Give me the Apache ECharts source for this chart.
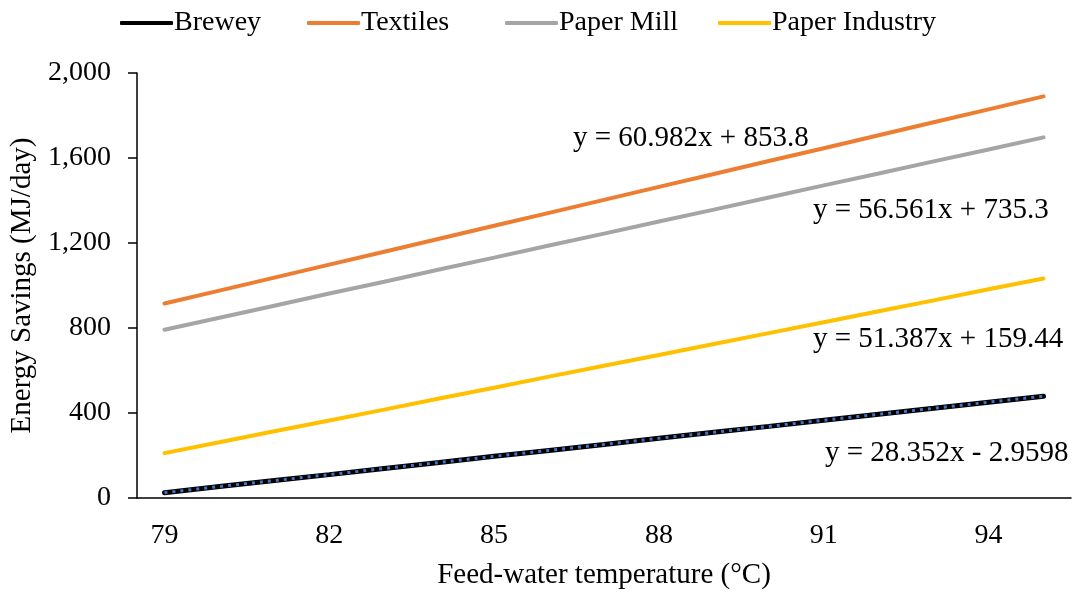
<!DOCTYPE html>
<html>
<head>
    <meta charset="utf-8">
    <title>energy savings</title>
    <style>
        html, body { margin: 0; padding: 0; background: #fff; }
        #main { width: 1078px; height: 592px; }
    </style>
</head>
<body>
<div id="main"></div>

<script src="https://cdn.jsdelivr.net/npm/echarts@6/dist/echarts.min.js"></script>
<script>
    // feed-water temperature (°C), one category per degree
    var temps = ['79', '80', '81', '82', '83', '84', '85', '86', '87', '88', '89', '90', '91', '92', '93', '94', '95'];

    // energy savings (MJ/day)
    var brewey = [25, 54, 82, 110, 139, 167, 196, 224, 252, 281, 309, 337, 366, 394, 422, 451, 479];
    var textiles = [915, 976, 1037, 1098, 1159, 1220, 1281, 1342, 1403, 1464, 1525, 1586, 1646, 1707, 1768, 1829, 1890];
    var paperMill = [792, 848, 905, 962, 1018, 1075, 1131, 1188, 1244, 1301, 1357, 1414, 1471, 1527, 1584, 1640, 1697];
    var paperIndustry = [211, 262, 314, 365, 416, 468, 519, 571, 622, 673, 725, 776, 827, 879, 930, 982, 1033];

    var seriesNames = ['Brewey', 'Textiles', 'Paper Mill', 'Paper Industry'];

    var equations = [
        'y = 60.982x + 853.8',
        'y = 56.561x + 735.3',
        'y = 51.387x + 159.44',
        'y = 28.352x - 2.9598'
    ];

    var FONT = '"Liberation Serif", "Times New Roman", serif';

    var lineSeries = function (name, data, color, width) {
        return {
            name: name,
            type: 'line',
            data: data,
            symbol: 'none',
            silent: true,
            lineStyle: { color: color, width: width, cap: 'round' },
            itemStyle: { color: color }
        };
    };

    var eqText = function (text, x, y) {
        return {
            type: 'text',
            left: x,
            top: y,
            style: { text: text, fill: '#000', font: '29px ' + FONT }
        };
    };

    // one legend block per item so the spacing can follow the original
    var legendAt = function (name, x) {
        return {
            data: [name],
            left: x,
            top: 4,
            icon: 'roundRect',
            itemWidth: 53,
            itemHeight: 4,
            textStyle: { fontFamily: FONT, fontSize: 28, color: '#000', padding: [0, 0, 0, -4] }
        };
    };

    var myChart = echarts.init(document.getElementById('main'));

    var series = [
        lineSeries(seriesNames[0], brewey, '#000000', 5),
        lineSeries(seriesNames[1], textiles, '#ED7D31', 4),
        lineSeries(seriesNames[2], paperMill, '#A5A5A5', 4),
        lineSeries(seriesNames[3], paperIndustry, '#FFC000', 4)
    ];
    // dotted trendline drawn over the brewery line
    series.push({
        name: 'Brewey trend',
        type: 'line',
        data: brewey,
        symbol: 'none',
        silent: true,
        z: 3,
        lineStyle: { color: '#4472C4', width: 3, type: [3, 5], cap: 'butt' }
    });

    var option = {
        animation: false,
        textStyle: { fontFamily: FONT },
        legend: [
            legendAt(seriesNames[0], 115),
            legendAt(seriesNames[1], 302),
            legendAt(seriesNames[2], 500),
            legendAt(seriesNames[3], 713)
        ],
        grid: { left: 137, right: 7, top: 73, bottom: 94, outerBoundsMode: 'none' },
        xAxis: {
            type: 'category',
            data: temps,
            boundaryGap: true,
            name: 'Feed-water temperature (°C)',
            nameLocation: 'middle',
            nameGap: 63,
            nameTextStyle: { fontFamily: FONT, fontSize: 29, color: '#000' },
            axisLine: { lineStyle: { color: '#000', width: 1.5 } },
            axisTick: { show: false },
            axisLabel: { interval: 2, fontFamily: FONT, fontSize: 28, color: '#000', margin: 24 }
        },
        yAxis: {
            type: 'value',
            min: 0,
            max: 2000,
            interval: 400,
            name: 'Energy Savings (MJ/day)',
            nameLocation: 'middle',
            nameGap: 100,
            nameTextStyle: { fontFamily: FONT, fontSize: 29, color: '#000' },
            axisLine: { show: true, lineStyle: { color: '#000', width: 1.5 } },
            axisTick: { show: true, length: 9, lineStyle: { color: '#000', width: 1.5 } },
            splitLine: { show: false },
            axisLabel: {
                fontFamily: FONT, fontSize: 28, color: '#000', margin: 26,
                formatter: function (v) { return v.toLocaleString('en-US'); }
            }
        },
        graphic: [
            eqText(equations[0], 573, 124),
            eqText(equations[1], 813, 196),
            eqText(equations[2], 813, 325),
            eqText(equations[3], 825, 439)
        ],
        series: series
    };

    myChart.setOption(option);
</script>
</body>
</html>
